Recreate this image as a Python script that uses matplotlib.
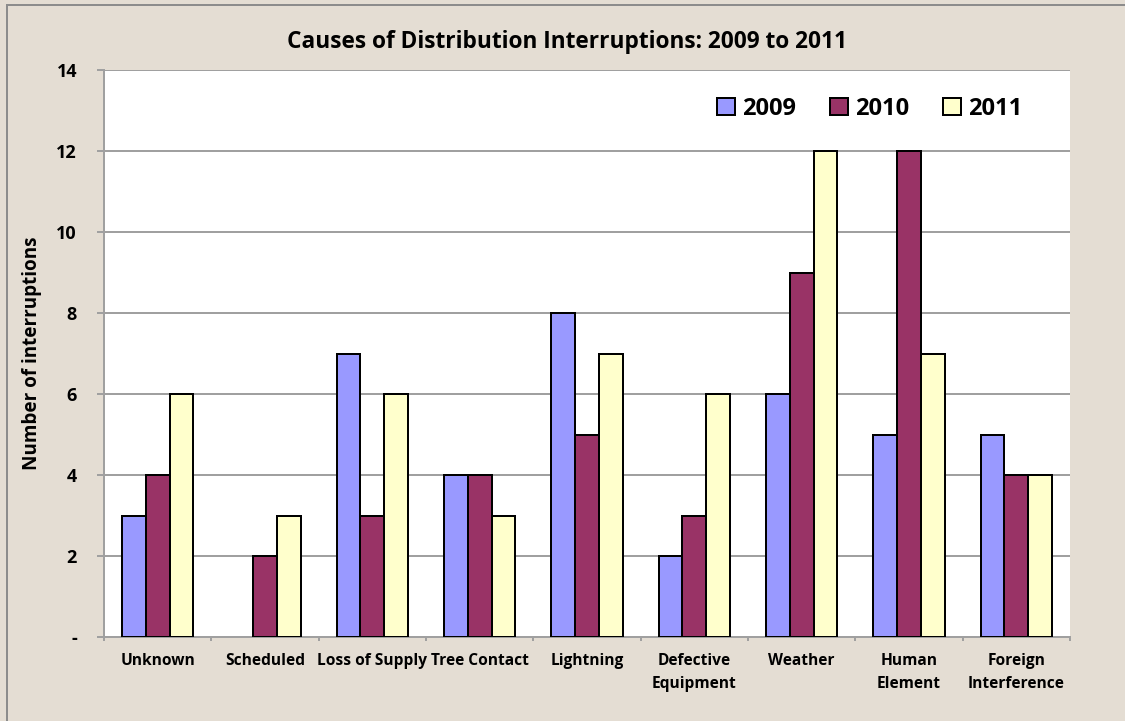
import matplotlib
matplotlib.use("Agg")
import matplotlib.pyplot as plt
import numpy as np
from matplotlib.patches import Rectangle
from matplotlib.ticker import FixedLocator, FuncFormatter

categories = ["Unknown", "Scheduled", "Loss of Supply", "Tree Contact", "Lightning",
              "Defective\nEquipment", "Weather", "Human\nElement", "Foreign\nInterference"]
series_names = ["2009", "2010", "2011"]
values_2009 = [3, 0, 7, 4, 8, 2, 6, 5, 5]
values_2010 = [4, 2, 3, 4, 5, 3, 9, 12, 4]
values_2011 = [6, 3, 6, 3, 7, 6, 12, 7, 4]
y_ticks = [0, 2, 4, 6, 8, 10, 12, 14]

colors = ["#9999FF", "#993366", "#FFFFCC"]
bg = "#E4DDD3"
grid_c = "#A0A0A0"

plt.rcParams["font.family"] = ["Open Sans", "DejaVu Sans"]
plt.rcParams["font.weight"] = "bold"

W, H = 1125, 721
PX = 72 / 100  # points per pixel at 100 dpi
fig = plt.figure(figsize=(W / 100, H / 100), dpi=100)
fig.patch.set_facecolor(bg)

# outer frame of the chart area
fig.add_artist(Rectangle((7 / W, -0.05), 1.2, (1 - 5 / H) + 0.05,
                         transform=fig.transFigure, fill=False,
                         edgecolor="#8C8C8C", linewidth=2 * PX))

left, right, top, bottom = 104, 1070, 70, 637
ax = fig.add_axes([left / W, 1 - bottom / H, (right - left) / W, (bottom - top) / H])
ax.set_facecolor("white")

n = len(categories)
x = np.arange(n)
bw = 1 / 4.5
all_vals = [values_2009, values_2010, values_2011]
for i, (vals, c, name) in enumerate(zip(all_vals, colors, series_names)):
    bars = ax.bar(x + (i - 1) * bw, vals, width=bw, color=c, edgecolor="black",
                  linewidth=2 * PX, label=name, zorder=3)
    for b, v in zip(bars, vals):
        if v == 0:
            b.set_linewidth(0)

ax.set_xlim(-0.5, n - 0.5)
ax.set_ylim(0, 14)
ax.set_yticks(y_ticks)
ax.yaxis.set_major_formatter(FuncFormatter(lambda v, p: "-" if v == 0 else f"{int(v)}"))
ax.grid(axis="y", color=grid_c, linewidth=2 * PX, zorder=0)
ax.set_axisbelow(True)

ax.set_xticks(x)
ax.set_xticklabels(categories, fontsize=11.2, fontweight="bold", linespacing=1.55)
ax.tick_params(axis="x", length=0, pad=16 * PX)
ax.xaxis.set_minor_locator(FixedLocator(np.arange(-0.5, n, 1.0)))
ax.tick_params(axis="x", which="minor", length=4 * PX, color=grid_c, width=2 * PX)
ax.tick_params(axis="y", length=7 * PX, color=grid_c, width=2 * PX, pad=20 * PX, labelsize=13)
for lbl in ax.get_yticklabels():
    lbl.set_fontweight("bold")

for s in ["top", "right"]:
    ax.spines[s].set_visible(False)
for s in ["left", "bottom"]:
    ax.spines[s].set_color(grid_c)
    ax.spines[s].set_linewidth(2 * PX)

ax.set_ylabel("Number of interruptions", fontsize=13.6, fontweight="bold", labelpad=0)
ax.yaxis.set_label_coords((42 - left) / (right - left), 0.5)

fig.text(567 / W, 1 - 42 / H, "Causes of Distribution Interruptions: 2009 to 2011",
         ha="center", va="center", fontsize=16.3, fontweight="bold")

leg = ax.legend(loc="center left", bbox_to_anchor=((717 - left) / (right - left), (bottom - 109) / (bottom - top)),
                ncol=3, frameon=False, borderaxespad=0, borderpad=0.0,
                prop={"size": 17, "weight": "bold"}, handlelength=0.75, handleheight=0.75,
                handletextpad=0.3, columnspacing=1.45)

fig.savefig("out.png", dpi=100, facecolor=bg)
